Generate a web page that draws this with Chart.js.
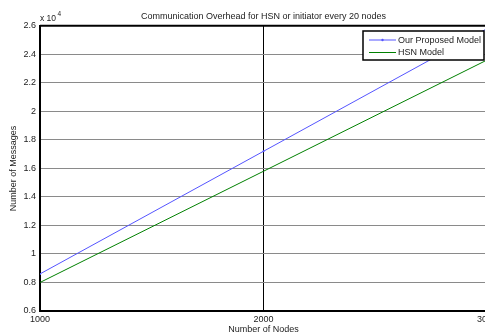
<!DOCTYPE html>
<html>
<head>
<meta charset="utf-8">
<script src="https://cdn.jsdelivr.net/npm/chart.js@4.4.1/dist/chart.umd.min.js"></script>
<style>
  html, body { margin: 0; padding: 0; background: #fff; overflow: hidden; }
  #wrap { width: 500px; height: 335px; }
</style>
</head>
<body>
<div id="wrap"><canvas id="myChart"></canvas></div>
<script>
const nodes = [1000, 2000, 3000];
const proposedMessages = [8600, 17200, 25800];
const hsnMessages = [8000, 15800, 23600];
const seriesNames = ['Our Proposed Model', 'HSN Model'];
const xTicks = [1000, 2000, 3000];

const font = "'Liberation Sans', Arial, sans-serif";

const extras = {
  id: 'extras',
  afterDraw(chart) {
    const { ctx, chartArea: { left, top, right } } = chart;
    ctx.save();
    // top box edge
    ctx.strokeStyle = '#000';
    ctx.lineWidth = 2;
    ctx.beginPath();
    ctx.moveTo(left, top);
    ctx.lineTo(right, top);
    ctx.stroke();

    // exponent label
    ctx.fillStyle = '#222';
    ctx.textBaseline = 'alphabetic';
    ctx.textAlign = 'left';
    ctx.font = '8.5px ' + font;
    ctx.fillText('x 10', 40, 21);
    ctx.font = '6.5px ' + font;
    ctx.fillText('4', 57.5, 15.5);

    // legend box
    const bx = 363, by = 31, bw = 121, bh = 29;
    ctx.fillStyle = '#fff';
    ctx.fillRect(bx, by, bw, bh);
    ctx.strokeStyle = '#000';
    ctx.lineWidth = 1.5;
    ctx.strokeRect(bx, by, bw, bh);
    ctx.font = '9px ' + font;
    ctx.textBaseline = 'middle';
    chart.data.datasets.forEach((ds, i) => {
      const yy = by + 9 + i * 12.5;
      ctx.strokeStyle = ds.borderColor;
      ctx.lineWidth = 1;
      ctx.beginPath();
      ctx.moveTo(bx + 6, yy);
      ctx.lineTo(bx + 33, yy);
      ctx.stroke();
      if (ds.pointRadius > 0) {
        ctx.fillStyle = ds.borderColor;
        ctx.beginPath();
        ctx.arc(bx + 19.5, yy, 1.2, 0, Math.PI * 2);
        ctx.fill();
      }
      ctx.fillStyle = '#222';
      ctx.fillText(ds.label, bx + 35, yy + 0.5);
    });
    ctx.restore();
  }
};

const config = {
  type: 'line',
  data: {
    datasets: [{
      label: seriesNames[0],
      data: nodes.map((n, i) => ({ x: n, y: proposedMessages[i] })),
      borderColor: '#5555ff',
      borderWidth: 1,
      pointRadius: 1,
      pointBackgroundColor: '#5555ff',
      pointBorderWidth: 0,
      fill: false,
    }, {
      label: seriesNames[1],
      data: nodes.map((n, i) => ({ x: n, y: hsnMessages[i] })),
      borderColor: '#008000',
      borderWidth: 1,
      pointRadius: 0,
      fill: false,
    }]
  },
  options: {
    responsive: true,
    maintainAspectRatio: false,
    animation: false,
    layout: { padding: { top: 0, left: 0, right: 0, bottom: 0 } },
    scales: {
      x: {
        type: 'linear',
        min: 1000,
        max: 3000,
        afterBuildTicks: (scale) => { scale.ticks = xTicks.map(v => ({ value: v })); },
        afterFit: (scale) => { scale.height = 24; },
        ticks: {
          color: '#222',
          font: { family: font, size: 9 },
          padding: 3,
          maxRotation: 0,
          callback: (v) => String(v),
        },
        grid: {
          drawTicks: false,
          color: (c) => c.tick && c.tick.value === 2000 ? '#000' : 'rgba(0,0,0,0)',
          lineWidth: 1,
        },
        border: { display: true, color: '#000', width: 2 },
        title: {
          display: true,
          text: 'Number of Nodes',
          color: '#222',
          font: { family: font, size: 9 },
          padding: { top: 0, bottom: 0 },
        },
      },
      y: {
        min: 6000,
        max: 26000,
        afterFit: (scale) => { scale.width = 40; },
        ticks: {
          stepSize: 2000,
          color: '#222',
          font: { family: font, size: 9 },
          padding: 4,
          callback: (v) => String(+(v / 10000).toFixed(1)),
        },
        grid: {
          drawTicks: false,
          color: '#8a8a8a',
          lineWidth: 1,
        },
        border: { display: true, color: '#000', width: 2 },
        title: {
          display: true,
          text: 'Number of Messages',
          color: '#222',
          font: { family: font, size: 9 },
          padding: { top: 8, bottom: 0 },
        },
      },
    },
    plugins: {
      legend: { display: false },
      tooltip: { enabled: false },
      title: {
        display: true,
        fullSize: false,
        text: 'Communication Overhead for HSN or initiator every 20 nodes',
        color: '#222',
        font: { family: font, size: 9, weight: 'normal' },
        padding: { top: 11, bottom: 4 },
      },
    },
  },
  plugins: [extras],
};

new Chart(document.getElementById('myChart').getContext('2d'), config);
</script>
</body>
</html>
